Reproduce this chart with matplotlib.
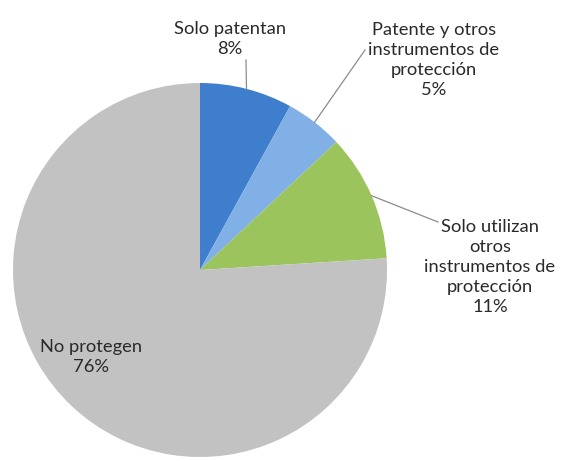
import numpy as np
import matplotlib
matplotlib.use("Agg")
import matplotlib.pyplot as plt

# Distribution of firms by how they protect their innovations
categories = ["Solo patentan",
              "Patente y otros\ninstrumentos de\nprotección",
              "Solo utilizan\notros\ninstrumentos de\nprotección",
              "No protegen"]
shares = [8, 5, 11, 76]
colors = ["#3f7ecc", "#80b0e6", "#9cc45c", "#c2c2c2"]

W, H = 561, 461
fig = plt.figure(figsize=(W / 100, H / 100), dpi=100)
ax = fig.add_axes([0, 0, 1, 1])

cx, cy, r = 200, H - 270, 187
wedges, _ = ax.pie(shares, colors=colors, startangle=90, counterclock=False,
                   radius=r, center=(cx, cy), frame=True,
                   wedgeprops=dict(linewidth=0))
ax.set_xlim(0, W)
ax.set_ylim(0, H)
ax.set_aspect("equal")
ax.axis("off")

txt = dict(fontsize=13.2, color="#2a2a2a", ha="center", va="center",
           linespacing=1.3, family=["Lato", "DejaVu Sans"])


def edge_point(w):
    ang = np.deg2rad((w.theta1 + w.theta2) / 2)
    return cx + r * np.cos(ang), cy + r * np.sin(ang)


# label block centres (pixel space, y from top) and leader-line ends
label_pos = [(230, 39), (434, 60), (490, 267), (91, 357)]
line_end = [(246, 60), (365, 50), (438, 222), None]

for w, name, val, (lx, ly), end in zip(wedges, categories, shares,
                                        label_pos, line_end):
    ax.text(lx, H - ly, f"{name}\n{val}%", **txt)
    if end is not None:
        sx, sy = edge_point(w)
        ax.plot([sx, end[0]], [sy, H - end[1]], color="#8c8c8c", lw=0.9)

fig.savefig("out.png", dpi=100)
